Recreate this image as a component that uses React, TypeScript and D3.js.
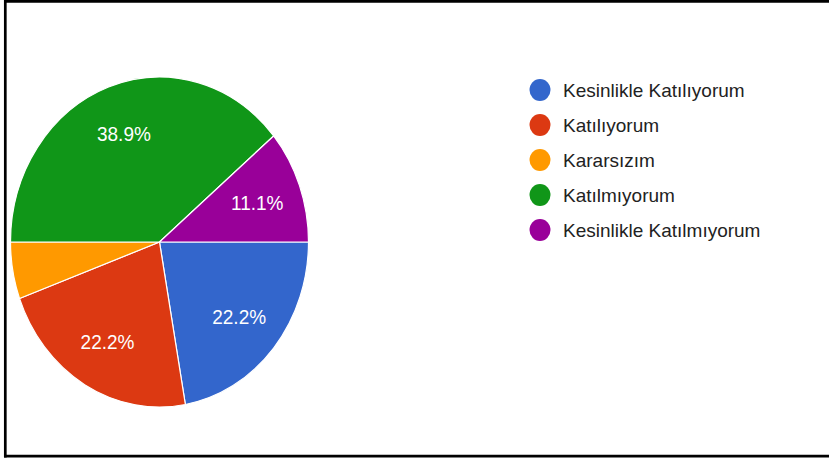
import React, { useEffect, useRef } from 'react';
import * as d3 from 'd3';

// responses per answer (18 total)
const categories = [
    'Kesinlikle Katılıyorum',
    'Katılıyorum',
    'Kararsızım',
    'Katılmıyorum',
    'Kesinlikle Katılmıyorum',
];
const counts = [4, 4, 1, 7, 2];
const colors = ['#3366cc', '#dc3912', '#ff9900', '#109618', '#990099'];

const W = 829;
const H = 459;

const App: React.FC = () => {
    const ref = useRef<SVGSVGElement>(null);

    useEffect(() => {
        if (!ref.current) return;
        const svg = d3.select(ref.current);
        svg.selectAll('*').remove();

        // frame (top, left, bottom only)
        const frame = svg.append('g').attr('stroke', '#000').attr('stroke-width', 2.7);
        frame.append('line').attr('x1', 4).attr('x2', W).attr('y1', 1.3).attr('y2', 1.3);
        frame.append('line').attr('x1', 5.3).attr('x2', 5.3).attr('y1', 0).attr('y2', 457.5);
        frame.append('line').attr('x1', 4).attr('x2', W).attr('y1', 456.2).attr('y2', 456.2);

        const r = 149;
        const sy = 165 / 149; // picture is stretched vertically
        const total = d3.sum(counts);

        const pie = d3.pie<number>()
            .sort(null)
            .startAngle(Math.PI / 2)
            .endAngle(Math.PI / 2 + 2 * Math.PI);
        const arcs = pie(counts);
        const arc = d3.arc<d3.PieArcDatum<number>>().innerRadius(0).outerRadius(r);
        const labelArc = d3.arc<d3.PieArcDatum<number>>().innerRadius(104).outerRadius(104);

        const g = svg.append('g').attr('transform', `translate(159.5,242) scale(1,${sy})`);

        g.selectAll('path.slice')
            .data(arcs)
            .enter()
            .append('path')
            .attr('class', 'slice')
            .attr('d', arc)
            .attr('fill', (_d, i) => colors[i])
            .attr('stroke', '#fff')
            .attr('stroke-width', 1.2)
            .attr('vector-effect', 'non-scaling-stroke');

        const fmt = d3.format('.1%');
        g.selectAll('text.lbl')
            .data(arcs.filter(d => d.value / total > 0.08))
            .enter()
            .append('text')
            .attr('class', 'lbl')
            .attr('transform', d => `translate(${labelArc.centroid(d)})`)
            .attr('dy', '0.36em')
            .attr('text-anchor', 'middle')
            .attr('font-family', 'Arial, "Liberation Sans", sans-serif')
            .attr('font-size', 19)
            .attr('fill', '#fff')
            .text(d => fmt(d.value / total));

        // legend
        const legend = svg.append('g').attr('transform', 'translate(540,90)');
        const item = legend.selectAll('g.item')
            .data(categories)
            .enter()
            .append('g')
            .attr('class', 'item')
            .attr('transform', (_d, i) => `translate(0,${i * 35})`);
        item.append('ellipse')
            .attr('rx', 10.5)
            .attr('ry', 11)
            .attr('fill', (_d, i) => colors[i]);
        item.append('text')
            .attr('x', 23)
            .attr('dy', '0.36em')
            .attr('font-family', 'Arial, "Liberation Sans", sans-serif')
            .attr('font-size', 19)
            .attr('fill', '#222')
            .text(d => d);
    }, []);

    return (
        <svg
            ref={ref}
            width={W}
            height={H}
            style={{ position: 'fixed', top: 0, left: 0, background: '#fff' }}
        />
    );
};

export default App;
